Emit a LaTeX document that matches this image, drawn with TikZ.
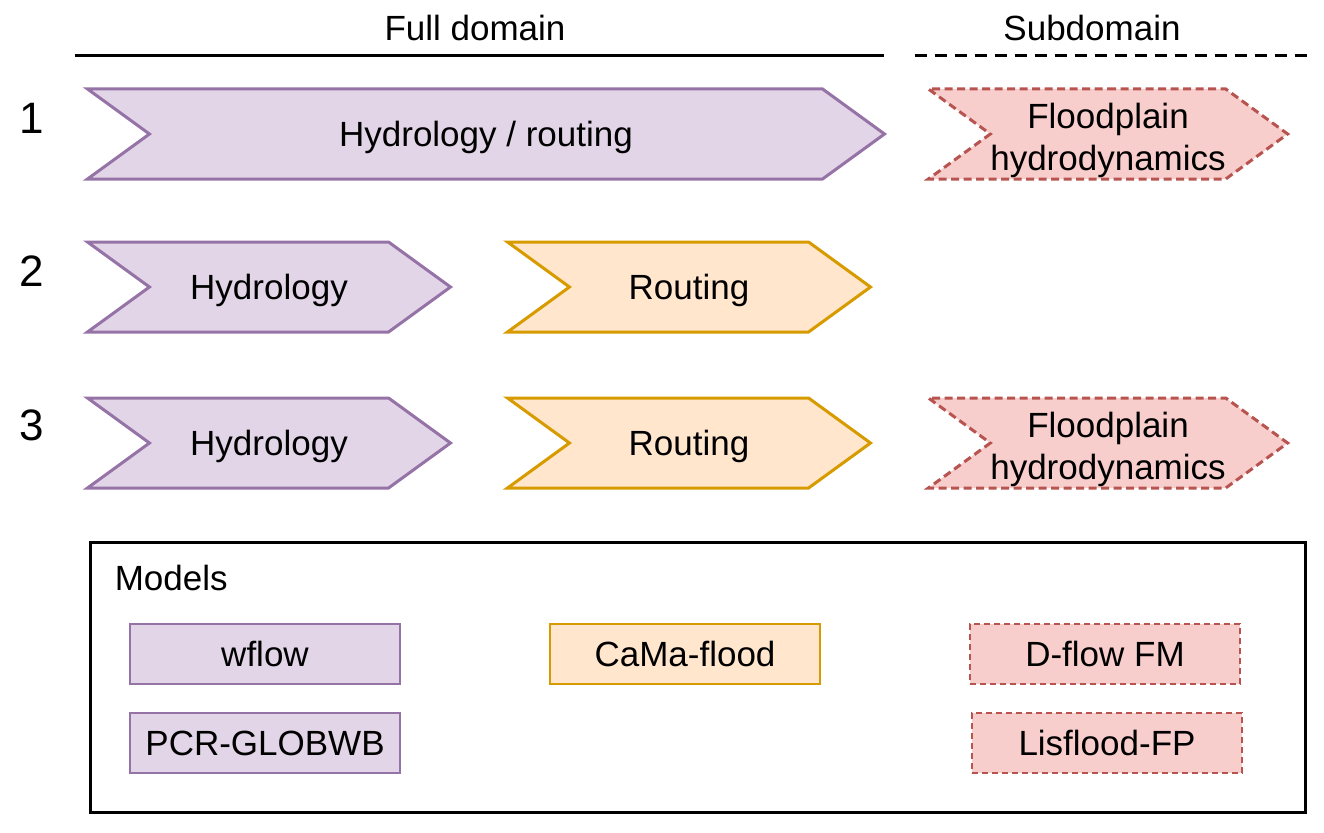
\documentclass[tikz,border=0pt]{standalone}
\usepackage{fontspec}
\setmainfont{Liberation Sans}
\usetikzlibrary{shapes.symbols, positioning}

\definecolor{hydfill}{HTML}{E1D5E7}
\definecolor{hydline}{HTML}{9673A6}
\definecolor{routfill}{HTML}{FFE6CC}
\definecolor{routline}{HTML}{D79B00}
\definecolor{fpfill}{HTML}{F8CECC}
\definecolor{fpline}{HTML}{B85450}
\newcommand{\lnstrut}{\rule[-7.4pt]{0pt}{39pt}}
\newcommand{\topstrut}{\rule{0pt}{37.6pt}}

\begin{document}
\begin{tikzpicture}
	[x=1pt, y=-1pt, line width=3pt, font=\fontsize{35}{42}\selectfont,
	 chev/.style={signal, signal from=west, signal to=east, signal pointer angle=72,
	   minimum height=90pt, inner sep=0pt, outer sep=0pt, align=center},
	 hyd/.style={chev, draw=hydline, fill=hydfill},
	 rout/.style={chev, draw=routline, fill=routfill},
	 fp/.style={chev, draw=fpline, fill=fpfill, dash pattern=on 8pt off 4.5pt},
	 model/.style={rectangle, minimum width=270pt, minimum height=60pt, inner sep=0pt, line width=2.5pt},
	 rownum/.style={anchor=base, font=\fontsize{44}{44}\selectfont}]
   \useasboundingbox (0,0) rectangle (1324,832);
   % headers
   \node[anchor=base] (full) at (475,41) {Full domain};
   \node[anchor=base] (sub) at (1092,41) {Subdomain};
   \coordinate (full_l) at (75,56);
   \coordinate (full_r) at (884,56);
   \coordinate (sub_l) at (915,56);
   \coordinate (sub_r) at (1310,56);
   \draw (full_l) -- (full_r);
   \draw[dash pattern=on 12pt off 8pt] (sub_l) -- (sub_r);
   % rows
   \node[rownum] (n_1) at (32,133) {1};
   \node[rownum] (n_2) at (32,286) {2};
   \node[rownum] (n_3) at (32,440) {3};
   \node[hyd, minimum width=797pt] (hr_1) at (486,134) {\lnstrut Hydrology / routing};
   \node[fp, minimum width=357pt] (fp_1) at (1108,134) {\topstrut Floodplain\\hydrodynamics\lnstrut};
   \node[hyd, minimum width=363pt] (h_2) at (269,287) {\lnstrut Hydrology};
   \node[rout, minimum width=363pt] (r_2) at (689,287) {\lnstrut Routing};
   \node[hyd, minimum width=363pt] (h_3) at (269,443) {\lnstrut Hydrology};
   \node[rout, minimum width=363pt] (r_3) at (689,443) {\lnstrut Routing};
   \node[fp, minimum width=357pt] (fp_3) at (1108,443) {\topstrut Floodplain\\hydrodynamics\lnstrut};
   % legend
   \node[draw, rectangle, minimum width=1215pt, minimum height=270pt] (legend) at (697.5,677) {};
   \node[anchor=west] (models) at (110,578) {Models};
   \node[model, draw=hydline, fill=hydfill] (wflow) at (265,654) {wflow};
   \node[model, draw=hydline, fill=hydfill] (pcr) at (265,743) {PCR-GLOBWB};
   \node[model, draw=routline, fill=routfill] (cama) at (685,654) {CaMa-flood};
   \node[model, draw=fpline, fill=fpfill, dash pattern=on 6pt off 4pt] (dflow) at (1105,654) {D-flow FM};
   \node[model, draw=fpline, fill=fpfill, dash pattern=on 6pt off 4pt] (lisf) at (1107,743) {Lisflood-FP};
\end{tikzpicture}
\end{document}
